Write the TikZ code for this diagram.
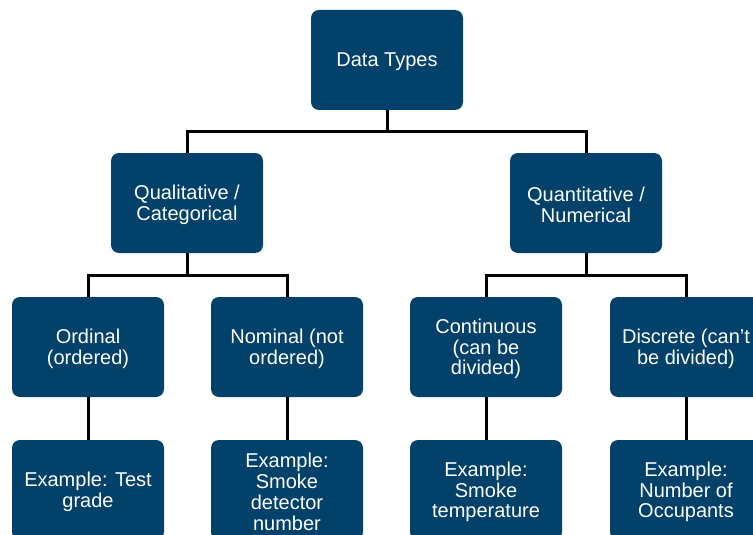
\documentclass[tikz,border=0pt]{standalone}
\usepackage{fontspec}
\setmainfont{Liberation Sans}
\definecolor{boxblue}{HTML}{02416A}
\begin{document}
\begin{tikzpicture}[x=1pt,y=-1pt,
  box/.style={fill=boxblue, rounded corners=8pt, minimum width=152pt, minimum height=100pt,
    inner sep=0pt},
  boxtext/.style={inner sep=0pt, align=center, text=white, yshift=-2pt,
    font=\fontsize{20}{20.8}\selectfont},
  link/.style={line width=3pt, draw=black}]
\useasboundingbox (0,0) rectangle (753,535);
\clip (0,0) rectangle (753,535);

% boxes: root, two categories, four subtypes, four examples
\node[box] (root) at (387,60)  {};
\node[box] (qual) at (187,203) {};
\node[box] (quan) at (586,203) {};
\node[box] (ord)  at (88,347)  {};
\node[box] (nom)  at (287,347) {};
\node[box] (cont) at (486,347) {};
\node[box] (disc) at (686,347) {};
\node[box] (exord)  at (88,490)  {};
\node[box] (exnom)  at (287,490) {};
\node[box] (excont) at (486,490) {};
\node[box] (exdisc) at (686,490) {};

% box texts
\node[boxtext] (root-t) at (root.center) {Data Types};
\node[boxtext] (qual-t) at (qual.center) {Qualitative /\\Categorical};
\node[boxtext] (quan-t) at (quan.center) {Quantitative /\\Numerical};
\node[boxtext] (ord-t)  at (ord.center)  {Ordinal\\(ordered)};
\node[boxtext] (nom-t)  at (nom.center)  {Nominal (not\\ordered)};
\node[boxtext] (cont-t) at (cont.center) {Continuous\\(can be\\divided)};
\node[boxtext] (disc-t) at (disc.center) {Discrete (can’t\\be divided)};
\node[boxtext] (exord-t)  at (exord.center)  {Example: Test\\grade};
\node[boxtext] (exnom-t)  at (exnom.center)  {Example:\\Smoke\\detector\\number};
\node[boxtext] (excont-t) at (excont.center) {Example:\\Smoke\\temperature};
\node[boxtext] (exdisc-t) at (exdisc.center) {Example:\\Number of\\Occupants};

% connectors
\draw[link] (root.south) -- ++(0,21) coordinate (b1);
\draw[link] (b1) -| (qual.north);
\draw[link] (b1) -| (quan.north);

\draw[link] (qual.south) -- ++(0,22) coordinate (b2);
\draw[link] (b2) -| (ord.north);
\draw[link] (b2) -| (nom.north);

\draw[link] (quan.south) -- ++(0,22) coordinate (b3);
\draw[link] (b3) -| (cont.north);
\draw[link] (b3) -| (disc.north);

\draw[link] (ord.south) -- (exord.north);
\draw[link] (nom.south) -- (exnom.north);
\draw[link] (cont.south) -- (excont.north);
\draw[link] (disc.south) -- (exdisc.north);
\end{tikzpicture}
\end{document}
